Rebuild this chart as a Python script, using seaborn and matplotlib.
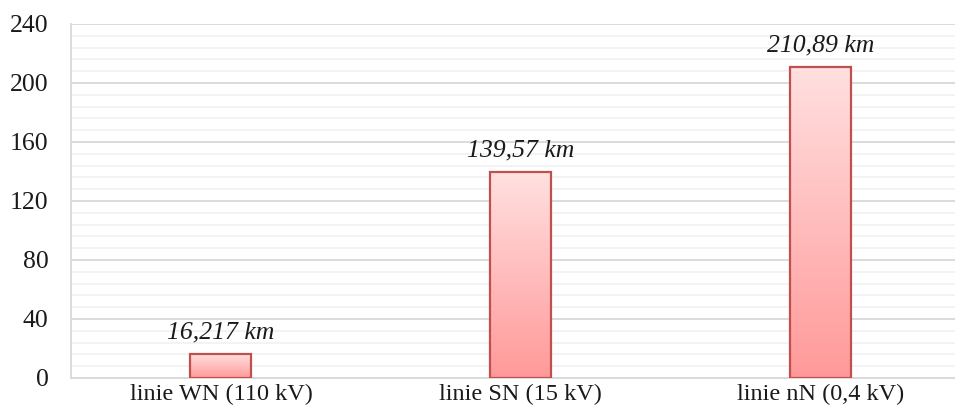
import numpy as np
import matplotlib
matplotlib.use("Agg")
from matplotlib import pyplot as plt
from matplotlib.colors import LinearSegmentedColormap
from matplotlib.ticker import MultipleLocator
import seaborn as sns

categories = ["linie WN (110 kV)", "linie SN (15 kV)", "linie nN (0,4 kV)"]
lengths_km = [16.217, 139.57, 210.89]
value_labels = ["16,217 km", "139,57 km", "210,89 km"]
y_ticks = [0, 40, 80, 120, 160, 200, 240]

sns.set_theme(style="white")
plt.rcParams['font.family'] = ['Liberation Serif', 'DejaVu Serif']

fig = plt.figure(figsize=(9.55, 4.2), dpi=100)
ax = fig.add_axes([0.0743, 0.1, 0.9257, 0.843])

sns.barplot(x=categories, y=lengths_km, ax=ax, width=0.203,
            color="#FF9999", edgecolor="#C0504D", linewidth=1.6, zorder=3)

# gradient fill per bar (light top -> salmon bottom)
cmap = LinearSegmentedColormap.from_list("bar", ["#FF9999", "#FFE0E0"])
grad = np.linspace(0, 1, 256).reshape(-1, 1)
for p in ax.patches:
    x0, y0 = p.get_x(), p.get_y()
    w, h = p.get_width(), p.get_height()
    im = ax.imshow(grad, cmap=cmap, aspect="auto", origin="lower",
                   extent=[x0, x0 + w, y0, y0 + h], zorder=3.5)
    im.set_clip_path(p)
    p.set_facecolor("none")
    p.set_zorder(4)

for i, (v, lab) in enumerate(zip(lengths_km, value_labels)):
    ax.text(i, v + 7, lab, ha="center", va="bottom", fontsize=18.5,
            style="italic", color="#1a1a1a")

ax.set_xlim(-0.5, 2.447)
ax.set_ylim(0, 240)
ax.set_yticks(y_ticks)
ax.yaxis.set_minor_locator(MultipleLocator(8))
ax.grid(axis="y", which="major", color="#D9D9D9", linewidth=1.3, zorder=0)
ax.grid(axis="y", which="minor", color="#F2F2F2", linewidth=1.3, zorder=0)
ax.set_axisbelow(True)

for s in ["top", "right"]:
    ax.spines[s].set_visible(False)
ax.spines["left"].set_color("#D9D9D9")
ax.spines["bottom"].set_color("#D9D9D9")
ax.spines["left"].set_linewidth(1.3)
ax.spines["bottom"].set_linewidth(1.3)

ax.tick_params(axis="y", labelsize=18.5, colors="#1a1a1a", length=0, pad=16)
ax.tick_params(axis="x", labelsize=17.5, colors="#1a1a1a", length=0, pad=4)

fig.savefig("out.png", dpi=100)
